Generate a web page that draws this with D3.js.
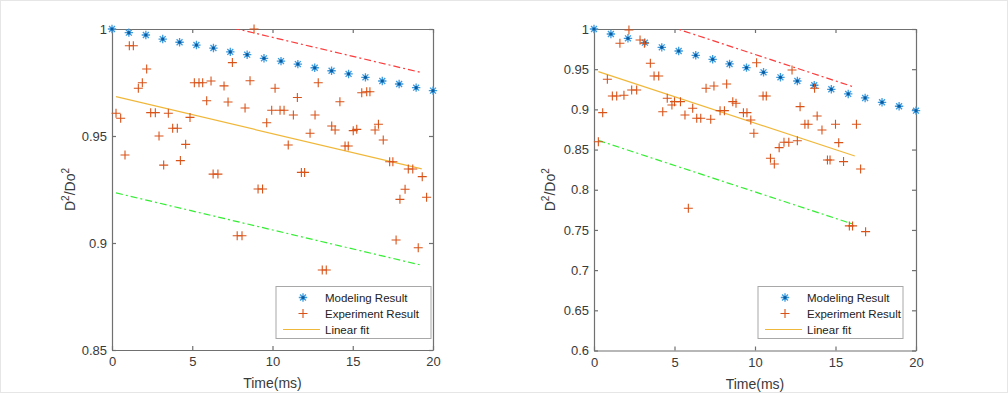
<!DOCTYPE html>
<html>
<head>
<meta charset="utf-8">
<script src="https://cdn.jsdelivr.net/npm/d3@7"></script>
<style>
  body { margin: 0; background: #fff; }
  svg { display: block; font-family: "Liberation Sans", Arial, sans-serif; }
</style>
</head>
<body>
<div id="chart"></div>
<script>
// model time points (ms), same for both panels
const modelTime = [0, 1.05, 2.11, 3.16, 4.21, 5.26, 6.32, 7.37, 8.42, 9.47,
  10.53, 11.58, 12.63, 13.68, 14.74, 15.79, 16.84, 17.89, 18.95, 20];

// left panel
const leftModel = [1.0, 0.9983, 0.9972, 0.9953, 0.9938, 0.9925, 0.9911, 0.9893, 0.988, 0.9863,
  0.985, 0.9836, 0.9819, 0.9805, 0.979, 0.9774, 0.9757, 0.9743, 0.9726, 0.9712];
const leftExpX = [8.85, 1.08, 1.33, 7.5, 2.16, 1.89, 1.64, 5.13, 5.42, 5.65,
  6.17, 6.98, 8.6, 10.16, 5.9, 7.23, 8.29, 9.95, 10.47, 10.72,
  9.64, 0.25, 0.54, 2.41, 2.7, 3.51, 4.86, 3.78, 4.07, 2.93,
  4.59, 0.81, 3.22, 4.26, 6.3, 6.6, 9.1, 9.38, 7.8, 8.1,
  12.85, 11.55, 14.2, 15.56, 15.87, 16.07, 11.3, 12.65, 13.69, 13.9,
  12.34, 15.03, 15.25, 16.39, 16.6, 16.9, 10.98, 14.52, 14.72, 17.3,
  17.5, 18.46, 18.74, 19.33, 18.26, 17.94, 19.6, 11.8, 12.0, 17.7,
  19.08, 13.1, 13.35];
const leftExpY = [1.0, 0.9922, 0.9922, 0.9843, 0.9813, 0.9749, 0.9723, 0.9749, 0.9749, 0.9749,
  0.9757, 0.9734, 0.9758, 0.9723, 0.9665, 0.9659, 0.9631, 0.962, 0.962, 0.962,
  0.9562, 0.9606, 0.9583, 0.9609, 0.9609, 0.9606, 0.9587, 0.9536, 0.9536, 0.95,
  0.9461, 0.9411, 0.9364, 0.9385, 0.9322, 0.9322, 0.9252, 0.9252, 0.9034, 0.9034,
  0.9749, 0.968, 0.966, 0.9702, 0.9707, 0.9707, 0.9598, 0.9598, 0.9547, 0.9528,
  0.9513, 0.9525, 0.9531, 0.9528, 0.9555, 0.9481, 0.9458, 0.9453, 0.9453, 0.938,
  0.938, 0.9346, 0.9346, 0.931, 0.9251, 0.9204, 0.9214, 0.933, 0.933, 0.9014,
  0.8978, 0.8874, 0.8874];
const leftFitX = [0.25, 19.3];
const leftFitY = [0.9684, 0.9346];
const leftUpperY = [1.0134, 0.9796];
const leftLowerY = [0.9234, 0.8896];

// right panel
const rightModel = [1.0, 0.9938, 0.9884, 0.983, 0.9772, 0.9726, 0.9673, 0.9623, 0.9565, 0.9519,
  0.9461, 0.9399, 0.9353, 0.93, 0.925, 0.9192, 0.9142, 0.9088, 0.9039, 0.8984];
const rightExpX = [2.17, 1.61, 2.86, 3.13, 3.5, 3.73, 4.02, 0.83, 0.54, 0.27,
  1.14, 1.41, 1.86, 2.34, 2.65, 4.55, 4.27, 4.84, 5.0, 5.37,
  5.65, 6.13, 6.38, 6.63, 7.25, 6.96, 7.45, 8.24, 7.83, 8.1,
  8.62, 8.82, 9.28, 9.5, 9.74, 9.93, 10.1, 12.3, 13.7, 10.5,
  10.7, 12.8, 13.86, 13.1, 13.3, 15.0, 16.3, 14.16, 15.2, 11.5,
  11.8, 12.1, 12.63, 10.96, 11.2, 14.5, 14.66, 15.5, 16.56, 15.86,
  16.06, 16.87, 5.86];
const rightExpY = [0.9988, 0.9822, 0.9863, 0.9822, 0.9573, 0.9415, 0.9415, 0.9374, 0.8959, 0.8598,
  0.9167, 0.9167, 0.9175, 0.9241, 0.9241, 0.9138, 0.8971, 0.9055, 0.9096, 0.9096,
  0.893, 0.9014, 0.8889, 0.8889, 0.8877, 0.9262, 0.9291, 0.9316, 0.8984, 0.8984,
  0.9096, 0.9076, 0.8959, 0.8959, 0.8868, 0.8703, 0.958, 0.949, 0.9262, 0.9167,
  0.9167, 0.9034, 0.8918, 0.8815, 0.8815, 0.8815, 0.8815, 0.8744, 0.8586, 0.8524,
  0.8591, 0.8591, 0.861, 0.8392, 0.8321, 0.837, 0.837, 0.835, 0.8259, 0.755,
  0.755, 0.7479, 0.777];
const rightFitX = [0.27, 16.2];
const rightFitY = [0.9469, 0.842];
const rightUpperY = [1.0324, 0.9275];
const rightLowerY = [0.8614, 0.7565];

const leftYTicks = [0.85, 0.9, 0.95, 1];
const rightYTicks = [0.6, 0.65, 0.7, 0.75, 0.8, 0.85, 0.9, 0.95, 1];
const xTicks = [0, 5, 10, 15, 20];
const legendLabels = ["Modeling Result", "Experiment Result", "Linear fit"];

const width = 1008, height = 395;
const axisColor = "#707070";
const textColor = "#3a3a3a";
const blue = "#0072BD", orange = "#D95319", yellow = "#F0B83A";

const svg = d3.select("#chart").append("svg")
  .attr("width", width)
  .attr("height", height);

svg.append("rect")
  .attr("x", 0.5).attr("y", 0.5)
  .attr("width", width - 1).attr("height", height - 3)
  .attr("fill", "#fff")
  .attr("stroke", "#e6e6e6");

function starPath(r) {
  const d = r * Math.SQRT1_2;
  return `M${-r},0L${r},0M0,${-r}L0,${r}M${-d},${-d}L${d},${d}M${-d},${d}L${d},${-d}`;
}
function plusPath(r) {
  return `M${-r},0L${r},0M0,${-r}L0,${r}`;
}

// MATLAB-like asterisk: light spokes with a dark core
function drawStar(sel) {
  sel.append("path").attr("d", starPath(4.2))
    .attr("stroke", "#3d9be0").attr("stroke-width", 1.3).attr("fill", "none");
  sel.append("circle").attr("r", 1.6).attr("fill", "#0a5a9c");
}

function panel(opt) {
  const { left, right, top, bottom } = opt.box;
  const x = d3.scaleLinear().domain([0, 20]).range([left, right]);
  const y = d3.scaleLinear().domain(opt.yDomain).range([bottom, top]);
  const g = svg.append("g");

  const fmt = (d) => String(+d.toFixed(2));

  const clipId = "clip-" + opt.id;
  g.append("clipPath").attr("id", clipId)
    .append("rect")
    .attr("x", left).attr("y", top)
    .attr("width", right - left).attr("height", bottom - top);

  // axes
  const styleAxis = (sel) => {
    sel.selectAll("path, line").attr("stroke", axisColor).attr("stroke-width", 1.2);
    sel.selectAll("text").attr("fill", textColor).style("font-size", "13px")
      .style("font-family", '"Liberation Sans", Arial, sans-serif');
  };
  g.append("g")
    .attr("transform", `translate(0,${bottom})`)
    .call(d3.axisBottom(x).tickValues(xTicks).tickFormat(fmt)
      .tickSizeInner(-4).tickSizeOuter(0).tickPadding(7))
    .call(styleAxis);
  g.append("g")
    .attr("transform", `translate(${left},0)`)
    .call(d3.axisLeft(y).tickValues(opt.yTicks).tickFormat(fmt)
      .tickSizeInner(-4).tickSizeOuter(0).tickPadding(5))
    .call(styleAxis);
  g.append("g")
    .attr("transform", `translate(0,${top})`)
    .call(d3.axisTop(x).tickValues(xTicks).tickFormat("")
      .tickSizeInner(-4).tickSizeOuter(0))
    .call(styleAxis);
  g.append("g")
    .attr("transform", `translate(${right},0)`)
    .call(d3.axisRight(y).tickValues(opt.yTicks).tickFormat("")
      .tickSizeInner(-4).tickSizeOuter(0))
    .call(styleAxis);

  // axis labels
  g.append("text")
    .attr("x", (left + right) / 2)
    .attr("y", bottom + 38)
    .attr("text-anchor", "middle")
    .attr("fill", textColor)
    .style("font-size", "14px")
    .text("Time(ms)");

  const yl = g.append("text")
    .attr("transform", `translate(${opt.yLabelX},${(top + bottom) / 2}) rotate(-90)`)
    .attr("text-anchor", "middle")
    .attr("fill", textColor)
    .style("font-size", "14px");
  yl.append("tspan").text("D");
  yl.append("tspan").attr("dy", -6).style("font-size", "10px").text("2");
  yl.append("tspan").attr("dy", 6).text("/Do");
  yl.append("tspan").attr("dy", -6).style("font-size", "10px").text("2");

  // fit and bound lines
  const line = d3.line().x((d) => x(d[0])).y((d) => y(d[1]));
  const lines = g.append("g").attr("clip-path", `url(#${clipId})`);
  lines.append("path")
    .attr("d", line(d3.zip(opt.fitX, opt.upperY)))
    .attr("fill", "none").attr("stroke", "#ff3b3b").attr("stroke-width", 1.2)
    .attr("stroke-dasharray", "7,3,2,3");
  lines.append("path")
    .attr("d", line(d3.zip(opt.fitX, opt.lowerY)))
    .attr("fill", "none").attr("stroke", "#33ee33").attr("stroke-width", 1.2)
    .attr("stroke-dasharray", "7,3,2,3");
  lines.append("path")
    .attr("d", line(d3.zip(opt.fitX, opt.fitY)))
    .attr("fill", "none").attr("stroke", yellow).attr("stroke-width", 1.2);

  // model stars
  g.append("g").selectAll("g")
    .data(d3.zip(modelTime, opt.model))
    .join("g")
    .attr("transform", (d) => `translate(${x(d[0])},${y(d[1])})`)
    .call(drawStar);

  // experiment crosses
  g.append("g").selectAll("path")
    .data(d3.zip(opt.expX, opt.expY))
    .join("path")
    .attr("transform", (d) => `translate(${x(d[0])},${y(d[1])})`)
    .attr("d", plusPath(4.5))
    .attr("stroke", orange).attr("stroke-width", 1.1).attr("fill", "none");

  // legend
  const lg = g.append("g");
  const lb = opt.legend;
  lg.append("rect")
    .attr("x", lb.x).attr("y", lb.y)
    .attr("width", lb.w).attr("height", 52)
    .attr("fill", "#fff").attr("stroke", "#a8a8a8").attr("stroke-width", 1);
  const rowY = [lb.y + 11, lb.y + 27, lb.y + 43];
  lg.append("g")
    .attr("transform", `translate(${lb.x + 27},${rowY[0]})`)
    .call(drawStar);
  lg.append("path")
    .attr("transform", `translate(${lb.x + 27},${rowY[1]})`)
    .attr("d", plusPath(4.5))
    .attr("stroke", orange).attr("stroke-width", 1.1).attr("fill", "none");
  lg.append("line")
    .attr("x1", lb.x + 7).attr("x2", lb.x + 44)
    .attr("y1", rowY[2]).attr("y2", rowY[2])
    .attr("stroke", yellow).attr("stroke-width", 1.2);
  lg.selectAll("text.lab")
    .data(legendLabels)
    .join("text")
    .attr("class", "lab")
    .attr("x", lb.x + 49)
    .attr("y", (d, i) => rowY[i] + 4)
    .attr("fill", "#222")
    .style("font-size", "11.5px")
    .text((d) => d);
}

panel({
  id: "left",
  box: { left: 112, right: 433, top: 29, bottom: 350 },
  yDomain: [0.85, 1],
  yTicks: leftYTicks,
  yLabelX: 75,
  model: leftModel,
  expX: leftExpX, expY: leftExpY,
  fitX: leftFitX, fitY: leftFitY, upperY: leftUpperY, lowerY: leftLowerY,
  legend: { x: 276, y: 286.5, w: 155 }
});

panel({
  id: "right",
  box: { left: 594, right: 916, top: 29, bottom: 350.5 },
  yDomain: [0.6, 1],
  yTicks: rightYTicks,
  yLabelX: 555,
  model: rightModel,
  expX: rightExpX, expY: rightExpY,
  fitX: rightFitX, fitY: rightFitY, upperY: rightUpperY, lowerY: rightLowerY,
  legend: { x: 758, y: 286.5, w: 145 }
});
</script>
</body>
</html>
